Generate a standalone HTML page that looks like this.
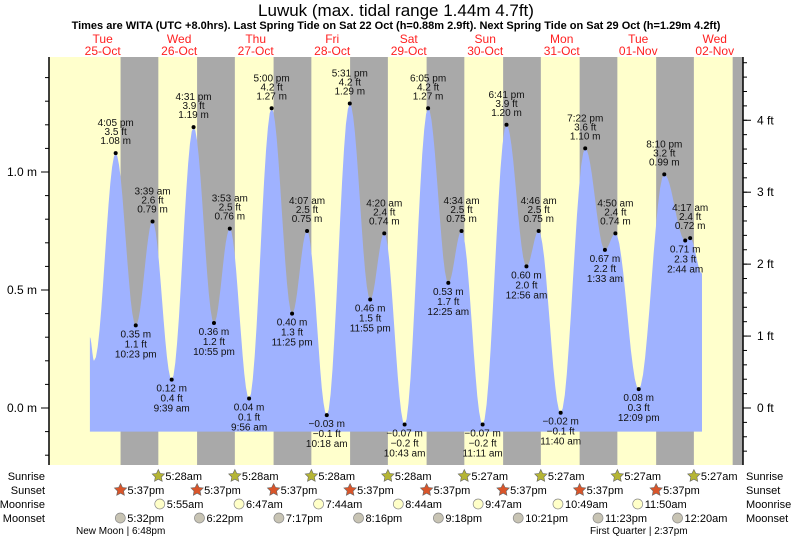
<!DOCTYPE html>
<html><head><meta charset="utf-8"><style>
body{margin:0;background:#fff}
svg{display:block;font-family:"Liberation Sans",sans-serif}
</style></head><body>
<svg id="c" width="793" height="539" viewBox="0 0 793 539">
<text x="396" y="16" text-anchor="middle" font-size="17">Luwuk (max. tidal range 1.44m 4.7ft)</text>
<text x="396" y="29" text-anchor="middle" font-size="11" font-weight="bold">Times are WITA (UTC +8.0hrs). Last Spring Tide on Sat 22 Oct (h=0.88m 2.9ft). Next Spring Tide on Sat 29 Oct (h=1.29m 4.2ft)</text>
<g id="bg"></g><g id="fill"></g><g id="marks"></g><g id="axes"></g><g id="rows"></g>
</svg>
<script>
// ---- data ----
const dayNames = ["Tue","Wed","Thu","Fri","Sat","Sun","Mon","Tue","Wed"];
const dayDates = ["25-Oct","26-Oct","27-Oct","28-Oct","29-Oct","30-Oct","31-Oct","01-Nov","02-Nov"];
const tideDay = [0,0,1,1,1,1,2,2,2,2,3,3,3,3,4,4,4,5,5,5,5,6,6,6,6,7,7,7,7,8,8];
const tideTime = ["4:05 pm","10:23 pm","3:39 am","9:39 am","4:31 pm","10:55 pm","3:53 am","9:56 am","5:00 pm","11:25 pm","4:07 am","10:18 am","5:31 pm","11:55 pm","4:20 am","10:43 am","6:05 pm","12:25 am","4:34 am","11:11 am","6:41 pm","12:56 am","4:46 am","11:40 am","7:22 pm","1:33 am","4:50 am","12:09 pm","8:10 pm","2:44 am","4:17 am"];
const tideM = [1.08,0.35,0.79,0.12,1.19,0.36,0.76,0.04,1.27,0.40,0.75,-0.03,1.29,0.46,0.74,-0.07,1.27,0.53,0.75,-0.07,1.20,0.60,0.75,-0.02,1.10,0.67,0.74,0.08,0.99,0.71,0.72];
const tideFt = ["3.5","1.1","2.6","0.4","3.9","1.2","2.5","0.1","4.2","1.3","2.5","-0.1","4.2","1.5","2.4","-0.2","4.2","1.7","2.5","-0.2","3.9","2.0","2.5","-0.1","3.6","2.2","2.4","0.3","3.2","2.3","2.4"];
const startHour = 8.0, startM = 0.30, preLowHour = 9.3, preLowM = 0.20, endHour = 200.0, endM = 0.57;
const sunriseDay = [1,2,3,4,5,6,7,8];
const sunriseTime = ["5:28am","5:28am","5:28am","5:28am","5:27am","5:27am","5:27am","5:27am"];
const sunsetDay = [0,1,2,3,4,5,6,7,8];
const sunsetTime = ["5:37pm","5:37pm","5:37pm","5:37pm","5:37pm","5:37pm","5:37pm","5:37pm","5:37pm"];
const moonriseDay = [1,2,3,4,5,6,7];
const moonriseTime = ["5:55am","6:47am","7:44am","8:44am","9:47am","10:49am","11:50am"];
const moonsetDay = [0,1,2,3,4,5,6,8];
const moonsetTime = ["5:32pm","6:22pm","7:17pm","8:16pm","9:18pm","10:21pm","11:23pm","12:20am"];
const yTicksM = [0.0,0.5,1.0];
const yTicksFt = [0,1,2,3,4];

// ---- scales ----
const X0=49,X1=743,Y0=57,Y1=465;
const xs = t => 64.4 + 3.188*t;
const ys = m => 408 - 236*m;
function hrs(s){const m=s.match(/(\d+):(\d+)\s*(am|pm)/);let h=+m[1]%12;if(m[3]=="pm")h+=12;return h+ +m[2]/60;}
const NS="http://www.w3.org/2000/svg";
function mk(p,tag,a,txt){const e=document.createElementNS(NS,tag);for(const k in a)e.setAttribute(k,a[k]);if(txt!=null)e.textContent=txt;document.getElementById(p).appendChild(e);return e;}

// background
let r=mk("bg","rect",{x:X0,y:Y0,width:X1-X0,height:Y1-Y0,fill:"#ffffcc"});


for(let i=0;i<sunsetDay.length;i++){
  const a=xs(sunsetDay[i]*24+hrs(sunsetTime[i]));
  const j=sunriseDay.indexOf(sunsetDay[i]+1);
  const b=j>=0?xs(sunriseDay[j]*24+hrs(sunriseTime[j])):X1;
  const g=mk("bg","rect",{x:a,y:Y0,width:Math.min(b,X1)-a,height:Y1-Y0,fill:"#a9a9a9"});
  
  
}
// day labels
for(let d=0;d<dayNames.length;d++){
  const x=xs(d*24+12);
  let t=mk("bg","text",{x:x,y:43,"text-anchor":"middle","font-size":12,fill:"#ff2020"},dayNames[d]);
  
  
  t=mk("bg","text",{x:x,y:55,"text-anchor":"middle","font-size":12,fill:"#ff2020"},dayDates[d]);
  
  
}
// tide curve
const pts=[[startHour,startM],[preLowHour,preLowM]];
for(let i=0;i<tideM.length;i++)pts.push([tideDay[i]*24+hrs(tideTime[i]),tideM[i]]);
pts.push([endHour,endM]);
let d="M"+xs(startHour)+","+(ys(-0.1)+0)+" ";
for(let i=0;i<pts.length-1;i++){
  const [t0,v0]=pts[i],[t1,v1]=pts[i+1];
  for(let k=0;k<=12;k++){const f=k/12;const v=v0+(v1-v0)*(1-Math.cos(Math.PI*f))/2;d+="L"+xs(t0+(t1-t0)*f).toFixed(1)+","+ys(v).toFixed(1)+" ";}
}
d+="L"+xs(endHour)+","+ys(-0.1)+"Z";
let p=mk("fill","path",{d:d,fill:"#9fb2ff"});


// extremes
for(let i=0;i<tideM.length;i++){
  const x=xs(tideDay[i]*24+hrs(tideTime[i])),y=ys(tideM[i]);
  const high=(i==0)?true:tideM[i]>tideM[i-1];
  const c=mk("marks","circle",{cx:x,cy:y,r:2,fill:"#000"});
  
  
  const lines=high?[tideTime[i],tideFt[i].replace('-','\u2212')+" ft",tideM[i].toFixed(2).replace('-','\u2212')+" m"]:[tideM[i].toFixed(2).replace('-','\u2212')+" m",tideFt[i].replace('-','\u2212')+" ft",tideTime[i]];
  const base=high?y-27:y+12;
  lines.forEach((s,k)=>{const t=mk("marks","text",{x:x,y:base+k*(high?9:10),"text-anchor":"middle","font-size":10,fill:"#111"},s);
    
    });
}
// axes
let ax=mk("axes","line",{x1:X0,y1:Y0,x2:X0,y2:Y1,stroke:"#000","stroke-width":1.5});


ax=mk("axes","line",{x1:X1,y1:Y0,x2:X1,y2:Y1,stroke:"#000","stroke-width":1.5});


for(let v=-0.2;v<=1.55;v+=0.1){const y=ys(v);if(y<Y0||y>Y1)continue;mk("axes","line",{x1:X0-4,y1:y,x2:X0,y2:y,stroke:"#000"});}
yTicksM.forEach(v=>{const y=ys(v);mk("axes","line",{x1:X0-8,y1:y,x2:X0,y2:y,stroke:"#000"});
  const t=mk("axes","text",{x:X0-12,y:y+4,"text-anchor":"end","font-size":12},v.toFixed(1)+" m");
  
  });
for(let f=-1;f<=5;f+=0.2){const y=ys(f*0.3048);if(y<Y0||y>Y1)continue;mk("axes","line",{x1:X1,y1:y,x2:X1+4,y2:y,stroke:"#000"});}
yTicksFt.forEach(f=>{const y=ys(f*0.3048);mk("axes","line",{x1:X1,y1:y,x2:X1+8,y2:y,stroke:"#000"});
  const t=mk("axes","text",{x:X1+14,y:y+4,"font-size":12},f+" ft");
  
  });
// bottom rows
const rowY={Sunrise:476,Sunset:490,Moonrise:504,Moonset:518};
for(const k in rowY){
  let t=mk("rows","text",{x:45,y:rowY[k]+4,"text-anchor":"end","font-size":11},k);
  
  
  t=mk("rows","text",{x:746,y:rowY[k]+4,"font-size":11},k);
  
  
}
function star(cx,cy,fill){let s="";for(let i=0;i<10;i++){const a=-Math.PI/2+i*Math.PI/5,rr=i%2?3.2:6.5;s+=(cx+rr*Math.cos(a)).toFixed(1)+","+(cy+rr*Math.sin(a)).toFixed(1)+" ";}return mk("rows","polygon",{points:s,fill:fill,stroke:"#666","stroke-width":0.6});}
function row(days,times,y,kind){
  days.forEach((dd,i)=>{const x=xs(dd*24+hrs(times[i]));let ic;
    if(kind=="sunrise")ic=star(x,y,"#b5b535");else if(kind=="sunset")ic=star(x,y,"#d9552a");
    else ic=mk("rows","circle",{cx:x,cy:y,r:5,fill:kind=="moonrise"?"#ffffc8":"#c8c4b4",stroke:"#888","stroke-width":0.7});
    
    
    const t=mk("rows","text",{x:x+7,y:y+4,"font-size":11},times[i]);
    
    });
}
row(sunriseDay,sunriseTime,rowY.Sunrise,"sunrise");
row(sunsetDay.slice(0,8),sunsetTime.slice(0,8),rowY.Sunset,"sunset");
row(moonriseDay,moonriseTime,rowY.Moonrise,"moonrise");
row(moonsetDay,moonsetTime,rowY.Moonset,"moonset");
let t=mk("rows","text",{x:76,y:534,"font-size":10},"New Moon | 6:48pm");


t=mk("rows","text",{x:590,y:534,"font-size":10},"First Quarter | 2:37pm");


</script>
</body></html>
